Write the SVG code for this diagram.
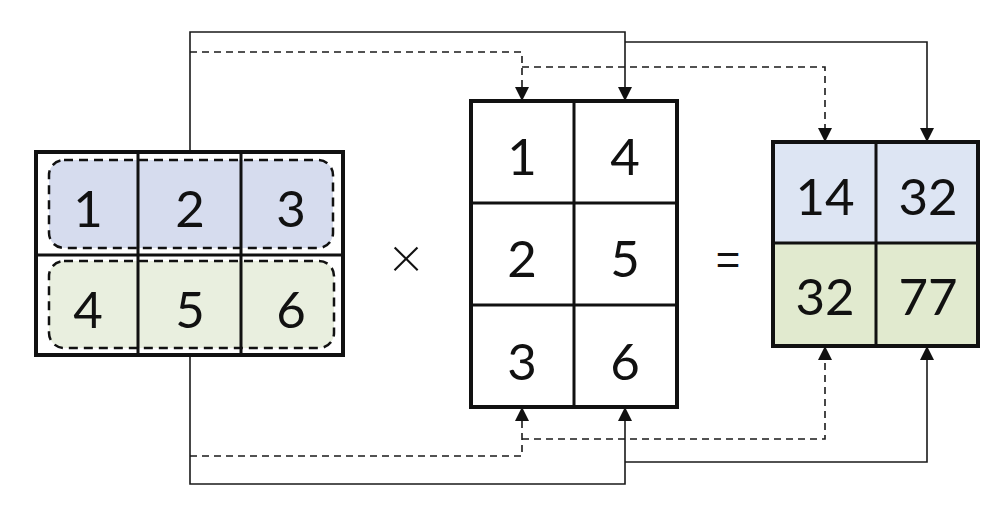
<svg xmlns="http://www.w3.org/2000/svg" width="1000" height="520" viewBox="0 0 1000 520">
<defs>
<marker id="ah" viewBox="0 0 10 10" refX="10" refY="5" markerWidth="14" markerHeight="14" markerUnits="userSpaceOnUse" orient="auto">
<path d="M0,0 L10,5 L0,10 Z" fill="#111"/>
</marker>
<style>
.frame{fill:none;stroke:#111;stroke-width:4}
.grid{stroke:#111;stroke-width:3;fill:none}
.num{font-family:Lato,"Liberation Sans",sans-serif;font-size:51px;fill:#111;text-anchor:middle}
.op{font-family:Lato,"Liberation Sans",sans-serif;font-weight:300;fill:#111;text-anchor:middle}
.eq{font-family:"Liberation Sans",sans-serif;fill:#111;text-anchor:middle}
.conn{fill:none;stroke:#1a1a1a;stroke-width:1.6}
.dash{stroke-dasharray:7,5}
.sel{stroke:#111;stroke-width:2.5;stroke-dasharray:9,6}
</style>
</defs>
<rect width="1000" height="520" fill="#fff"/>

<g id="connectors">
<path class="conn" d="M190,152 V32 H625 V101" marker-end="url(#ah)"/>
<path class="conn" d="M625,42 H927 V142" marker-end="url(#ah)"/>
<path class="conn dash" d="M190,52 H522 V101" marker-end="url(#ah)"/>
<path class="conn dash" d="M522,67 H825 V142" marker-end="url(#ah)"/>
<path class="conn" d="M190,355 V484 H625 V407" marker-end="url(#ah)"/>
<path class="conn" d="M625,462 H927 V346" marker-end="url(#ah)"/>
<path class="conn dash" d="M190,456 H522 V407" marker-end="url(#ah)"/>
<path class="conn dash" d="M522,439 H825 V346" marker-end="url(#ah)"/>
</g>

<g id="matrixA">
<rect x="36" y="152" width="307" height="203" fill="#fff"/>
<rect x="49" y="160" width="284" height="88" rx="15" fill="#d6dcee"/>
<rect x="49" y="261" width="285" height="87" rx="15" fill="#e9efdf"/>
<path class="grid" d="M138,152 V355 M241,152 V355 M36,255 H343"/>
<rect x="49" y="160" width="284" height="88" rx="15" fill="none" class="sel"/>
<rect x="49" y="261" width="285" height="87" rx="15" fill="none" class="sel"/>
<rect class="frame" x="36" y="152" width="307" height="203"/>
<text class="num" x="88" y="227">1</text>
<text class="num" x="190" y="227">2</text>
<text class="num" x="291" y="227">3</text>
<text class="num" x="88" y="328">4</text>
<text class="num" x="190" y="328">5</text>
<text class="num" x="291" y="328">6</text>
</g>

<g id="times">
<text class="op" x="406" y="278" font-size="58">×</text>
</g>

<g id="matrixB">
<rect x="471" y="101" width="206" height="306" fill="#fff"/>
<path class="grid" d="M574,101 V407 M471,203 H677 M471,305 H677"/>
<rect class="frame" x="471" y="101" width="206" height="306"/>
<text class="num" x="522" y="175">1</text>
<text class="num" x="625" y="175">4</text>
<text class="num" x="522" y="277">2</text>
<text class="num" x="625" y="277">5</text>
<text class="num" x="522" y="380">3</text>
<text class="num" x="625" y="380">6</text>
</g>

<g id="equals">
<text class="eq" x="728" y="274" font-size="42">=</text>
</g>

<g id="matrixC">
<rect x="773" y="142" width="205" height="101" fill="#dde5f3"/>
<rect x="773" y="243" width="205" height="103" fill="#e1eacf"/>
<path class="grid" d="M876,142 V346 M773,243 H978"/>
<rect class="frame" x="773" y="142" width="205" height="204"/>
<text class="num" x="825" y="215">14</text>
<text class="num" x="928" y="215">32</text>
<text class="num" x="825" y="315">32</text>
<text class="num" x="928" y="315">77</text>
</g>
</svg>
